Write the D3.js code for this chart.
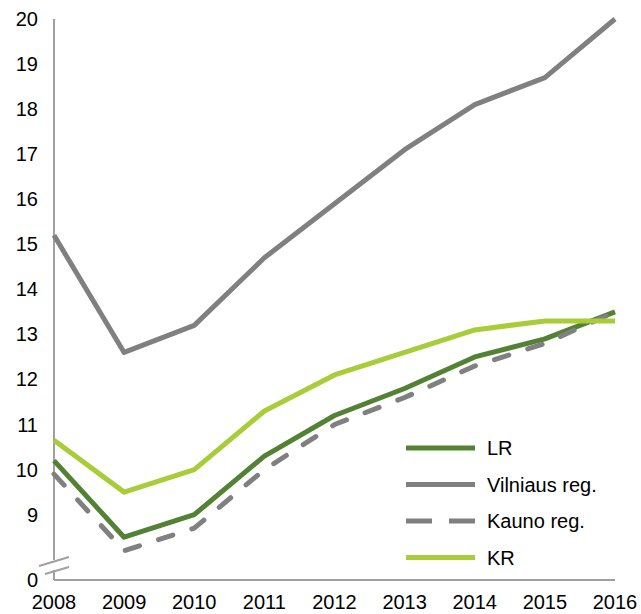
<!DOCTYPE html>
<html>
<head>
<meta charset="utf-8">
<script src="https://cdn.jsdelivr.net/npm/d3@7"></script>
<style>
  body { margin: 0; background: #fff; }
  text { font-family: "Liberation Sans", Arial, sans-serif; font-size: 20px; fill: #000; }
</style>
</head>
<body>
<div id="chart"></div>
<script>
// chart data
const years = [2008, 2009, 2010, 2011, 2012, 2013, 2014, 2015, 2016];
const lrValues = [10.2, 8.5, 9.0, 10.3, 11.2, 11.8, 12.5, 12.9, 13.5];
const vilniusValues = [15.2, 12.6, 13.2, 14.7, 15.9, 17.1, 18.1, 18.7, 20.0];
const kaunoValues = [9.9, 8.2, 8.7, 10.0, 11.0, 11.6, 12.3, 12.8, 13.5];
const krValues = [10.65, 9.5, 10.0, 11.3, 12.1, 12.6, 13.1, 13.3, 13.3];
const yTicks = [9, 10, 11, 12, 13, 14, 15, 16, 17, 18, 19, 20];
const seriesNames = ["LR", "Vilniaus reg.", "Kauno reg.", "KR"];

const width = 641, height = 614;
const margin = { top: 19, right: 26, bottom: 34, left: 54 };
const axisMin = 7.55; // broken axis: bottom is labelled "0"

const series = [
    { name: seriesNames[0], values: lrValues, color: "#548235", dash: null },
    { name: seriesNames[1], values: vilniusValues, color: "#808080", dash: null },
    { name: seriesNames[2], values: kaunoValues, color: "#808080", dash: "15,20" },
    { name: seriesNames[3], values: krValues, color: "#a9cd38", dash: null }
];

const svg = d3.select("#chart")
    .append("svg")
    .attr("width", width)
    .attr("height", height);

const x = d3.scaleLinear()
    .domain(d3.extent(years))
    .range([margin.left, width - margin.right]);

const y = d3.scaleLinear()
    .domain([axisMin, 20])
    .range([height - margin.bottom, margin.top]);

const axisColor = "#a0a0a0";

// y axis line with a break near the bottom
const breakTop = y(axisMin) - 20, breakBottom = y(axisMin) - 10;
svg.append("line")
    .attr("x1", x(2008)).attr("x2", x(2008))
    .attr("y1", y(20)).attr("y2", breakTop)
    .attr("stroke", axisColor).attr("stroke-width", 2);
svg.append("line")
    .attr("x1", x(2008)).attr("x2", x(2008))
    .attr("y1", breakBottom).attr("y2", y(axisMin))
    .attr("stroke", axisColor).attr("stroke-width", 2);

// break marks
[breakTop, breakBottom].forEach((by, i) => {
    svg.append("line")
        .attr("x1", x(2008) - (i ? 9 : 15)).attr("y1", by + (i ? 4 : 6))
        .attr("x2", x(2008) + 15).attr("y2", by - 3)
        .attr("stroke", axisColor).attr("stroke-width", 2);
});

// x axis line
svg.append("line")
    .attr("x1", x(2008)).attr("x2", x(2016))
    .attr("y1", y(axisMin)).attr("y2", y(axisMin))
    .attr("stroke", axisColor).attr("stroke-width", 2);

// y tick labels
svg.selectAll("text.ytick")
    .data([axisMin].concat(yTicks))
    .enter().append("text")
    .attr("class", "ytick")
    .attr("x", 38)
    .attr("y", d => y(d))
    .attr("dy", "0.35em")
    .attr("text-anchor", "end")
    .text(d => d === axisMin ? "0" : d);

// x tick labels
svg.selectAll("text.xtick")
    .data(years)
    .enter().append("text")
    .attr("class", "xtick")
    .attr("x", d => x(d))
    .attr("y", 609)
    .attr("text-anchor", "middle")
    .text(d => d);

const line = d3.line()
    .x((d, i) => x(years[i]))
    .y(d => y(d));

svg.selectAll("path.series")
    .data(series)
    .enter().append("path")
    .attr("class", "series")
    .attr("d", d => line(d.values))
    .attr("fill", "none")
    .attr("stroke", d => d.color)
    .attr("stroke-width", 5)
    .attr("stroke-linejoin", "round")
    .attr("stroke-linecap", d => d.dash ? "round" : "butt")
    .attr("stroke-dasharray", d => d.dash);

// legend
const legend = svg.append("g").attr("transform", "translate(406,448)");
const item = legend.selectAll("g")
    .data(series)
    .enter().append("g")
    .attr("transform", (d, i) => `translate(0,${i * 36.5})`);

item.append("line")
    .attr("x1", 0).attr("x2", 69)
    .attr("y1", 0).attr("y2", 0)
    .attr("stroke", d => d.color)
    .attr("stroke-width", 5)
    .attr("stroke-dasharray", d => d.dash ? "26,17" : null);

item.append("text")
    .attr("x", 81)
    .attr("y", 0)
    .attr("dy", "0.35em")
    .text(d => d.name);
</script>
</body>
</html>
